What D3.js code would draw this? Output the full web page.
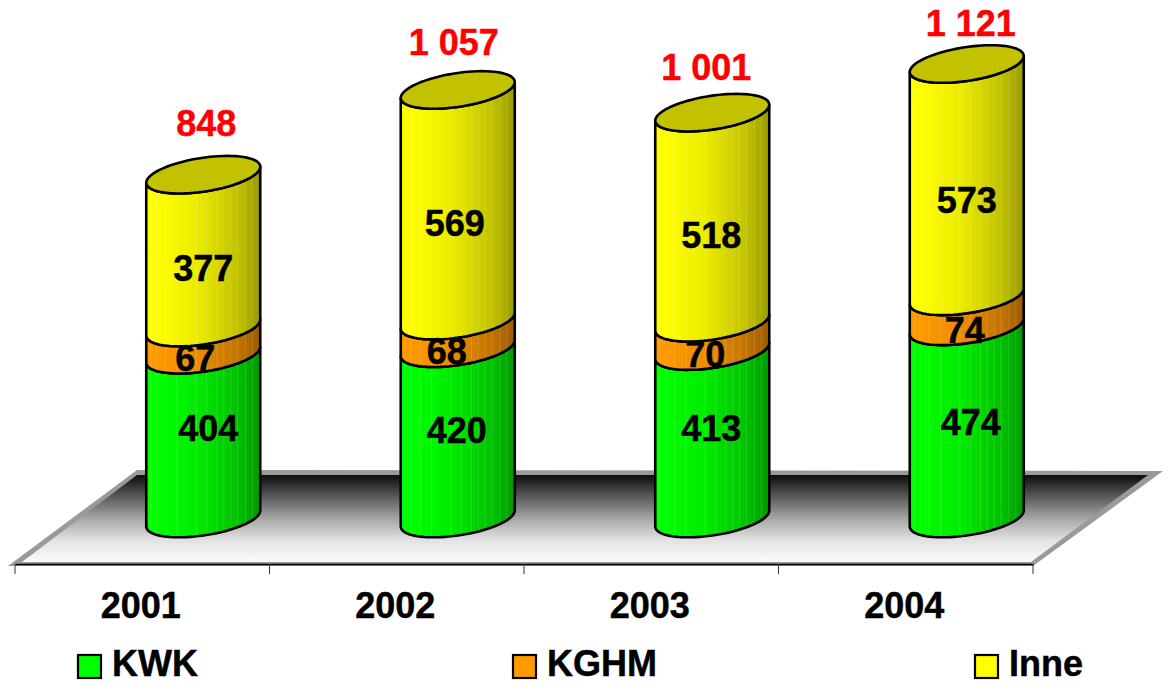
<!DOCTYPE html>
<html>
<head>
<meta charset="utf-8">
<style>
html,body{margin:0;padding:0;background:#fff;overflow:hidden}
svg{display:block}
text{font-family:"Liberation Sans",Arial,sans-serif;font-weight:bold;stroke-width:0.45px}
</style>
<script src="https://cdn.jsdelivr.net/npm/d3@7/dist/d3.min.js"></script>
</head>
<body>
<svg id="chart" width="1167" height="684"></svg>
<script>
// Stacked cylinders per year
const years = ["2001", "2002", "2003", "2004"];
const kwk = [404, 420, 413, 474];
const kghm = [67, 68, 70, 74];
const inne = [377, 569, 518, 573];
const seriesNames = ["KWK", "KGHM", "Inne"];
const seriesColors = ["#00ff00", "#ff9900", "#ffff00"];

// Hand-placed label offsets (dx, dy from the default spot on the cylinder front)
const labelNudge = {
  KWK: [[5, -27], [-1, -21], [-1, -25], [4, -18]],
  KGHM: [[-8, -1], [-11, -1], [-7, -1], [-2, 1]],
  Inne: [[0, -1], [-3, 0], [-1, -1], [0, 2]],
  total: [[3, -32], [-4, -28], [-6, -26], [4, -21]]
};
const stripeFractions = [0.04, 0.09, 0.17, 0.27, 0.44, 0.53, 0.62, 0.68, 0.74, 0.8, 0.87, 0.93];

const svg = d3.select("#chart");
const defs = svg.append("defs");

// Scales: x is the floor's front edge, y is measured at the cylinder's left rim
const x = d3.scaleBand().domain(years).range([15, 1033]);
const y = d3.scaleLinear().domain([0, 1121]).range([526.5, 72]);
const depthDx = 61;
const rx = 57, tilt = 8, ry = 17;
const fmt = d3.formatLocale({ decimal: ",", thousands: "\u00a0", grouping: [3], currency: ["", ""] }).format(",d");

// Floor
const floorFront = 564, floorBack = 475;
const floorGrad = defs.append("linearGradient").attr("id", "floorGrad")
  .attr("x1", 0).attr("x2", 0).attr("y1", 0).attr("y2", 1);
[[0, "#0c0c0c"], [0.25, "#5a5a5a"], [0.5, "#a6a6a6"], [0.75, "#e2e2e2"], [1, "#fbfbfb"]]
  .forEach(([o, c]) => floorGrad.append("stop").attr("offset", o).attr("stop-color", c));

const poly = d3.line();
svg.append("path")
  .attr("d", poly([[8, 566], [137, 470], [1163, 471], [1033, 566]]) + "Z")
  .attr("fill", "#9a9a9a");
svg.append("path")
  .attr("d", poly([[22, 562], [137, floorBack], [1148, floorBack], [1031, 562]]) + "Z")
  .attr("fill", "url(#floorGrad)");

// Category axis with ticks on the band edges
const axisG = svg.append("g").attr("transform", `translate(0,${floorFront})`)
  .call(d3.axisBottom(x).tickSize(0).tickPadding(28));
axisG.select(".domain").attr("stroke", "#000").attr("stroke-width", 1.5);
axisG.selectAll(".tick text").attr("font-size", 36).attr("fill", "#000").attr("stroke", "#000")
  .attr("dx", -1.5)
  .style("font-family", '"Liberation Sans",Arial,sans-serif').style("font-weight", "bold");
axisG.selectAll(".tickEdge")
  .data(years.map(d => x(d)).concat(x.range()[1]))
  .join("line").attr("class", "tickEdge")
  .attr("x1", d => d).attr("x2", d => d).attr("y1", 0).attr("y2", 10)
  .attr("stroke", "#333").attr("stroke-width", 1);

// Side shading
seriesColors.forEach((c, i) => {
  const g = defs.append("linearGradient").attr("id", "side" + i);
  const dark = d3.rgb(c).copy();
  dark.r *= 0.6; dark.g *= 0.6; dark.b *= 0.6;
  const ramp = d3.interpolateRgb(c, dark);
  [0, 0.12, 0.45, 0.8, 1].forEach((o, k) => {
    const amount = [0, 0.02, 0.2, 0.6, 1][k];
    g.append("stop").attr("offset", o).attr("stop-color", ramp(amount));
  });
});

// Front arc of a rim whose left edge sits at yLeft
const arcPoints = (cx, yLeft, forward) => {
  const cy = yLeft - tilt;
  const ts = d3.range(0, 41).map(k => Math.PI - (k / 40) * Math.PI);
  const pts = ts.map(t => [cx + rx * Math.cos(t), cy - tilt * Math.cos(t) + ry * Math.sin(t)]);
  return forward ? pts : pts.reverse();
};
const frontY = (cx, yLeft, px) => {
  const u = (px - cx) / rx;
  return yLeft - tilt - tilt * u + ry * Math.sqrt(Math.max(0, 1 - u * u));
};
const stroke = { stroke: "#000", width: 2.6 };

const stacks = years.map((yr, i) => {
  let acc = 0;
  return [kwk[i], kghm[i], inne[i]].map((v, s) => {
    const seg = { yr, i, s, v, from: acc, to: acc + v, name: seriesNames[s] };
    acc += v;
    return seg;
  });
});

const cylinders = svg.selectAll("g.cyl").data(stacks).join("g").attr("class", "cyl");
cylinders.each(function (segs) {
  const g = d3.select(this);
  const cx = x(segs[0].yr) + x.bandwidth() / 2 + depthDx;
  segs.forEach(seg => {
    const lower = arcPoints(cx, y(seg.from), true);
    const upper = arcPoints(cx, y(seg.to), false);
    g.append("path")
      .attr("d", poly(lower.concat(upper)) + "Z")
      .attr("fill", `url(#side${seg.s})`)
      .attr("stroke", stroke.stroke).attr("stroke-width", stroke.width)
      .attr("stroke-linejoin", "round");
    g.selectAll(null).data(stripeFractions).join("line")
      .attr("x1", f => cx - rx + f * 2 * rx).attr("x2", f => cx - rx + f * 2 * rx)
      .attr("y1", f => frontY(cx, y(seg.to), cx - rx + f * 2 * rx) + 2)
      .attr("y2", f => frontY(cx, y(seg.from), cx - rx + f * 2 * rx) - 2)
      .attr("stroke", "#fff").attr("stroke-opacity", 0.14).attr("stroke-width", 1);
  });
  // Top cap
  const total = segs[2].to;
  const capY = y(total) - tilt;
  const cap = d3.range(0, 72).map(k => {
    const t = (k / 72) * 2 * Math.PI;
    return [cx + rx * Math.cos(t), capY - tilt * Math.cos(t) + ry * Math.sin(t)];
  });
  g.append("path").attr("d", poly(cap) + "Z")
    .attr("fill", "#c2c200").attr("stroke", "#000").attr("stroke-width", stroke.width);
});

// Value labels, drawn after every cylinder
stacks.forEach(segs => {
  const cx = x(segs[0].yr) + x.bandwidth() / 2 + depthDx;
  segs.forEach(seg => {
    const n = labelNudge[seg.name][seg.i];
    svg.append("text")
      .attr("x", cx + n[0])
      .attr("y", y((seg.from + seg.to) / 2) + 10 + n[1])
      .attr("dy", "0.36em").attr("text-anchor", "middle")
      .attr("font-size", 36).attr("fill", "#000").attr("stroke", "#000").text(seg.v);
  });
  const total = segs[2].to;
  const n = labelNudge.total[segs[0].i];
  svg.append("text")
    .attr("x", cx + n[0])
    .attr("y", y(total) - tilt - 20 + n[1])
    .attr("dy", "0.36em").attr("text-anchor", "middle")
    .attr("font-size", 36).attr("fill", "#ff0000").attr("stroke", "#ff0000").text(fmt(total));
});

// Legend
const legendX = d3.scaleOrdinal().domain(seriesNames).range([78, 513, 975]);
const legend = svg.selectAll("g.leg").data(seriesNames).join("g").attr("class", "leg")
  .attr("transform", d => `translate(${legendX(d)},655)`);
legend.append("rect").attr("width", 23).attr("height", 23)
  .attr("fill", (d, i) => seriesColors[i]).attr("stroke", "#000").attr("stroke-width", 2.2);
legend.append("text").attr("x", 34).attr("y", 21).attr("font-size", 36)
  .attr("fill", "#000").attr("stroke", "#000").text(d => d);
</script>
</body>
</html>
